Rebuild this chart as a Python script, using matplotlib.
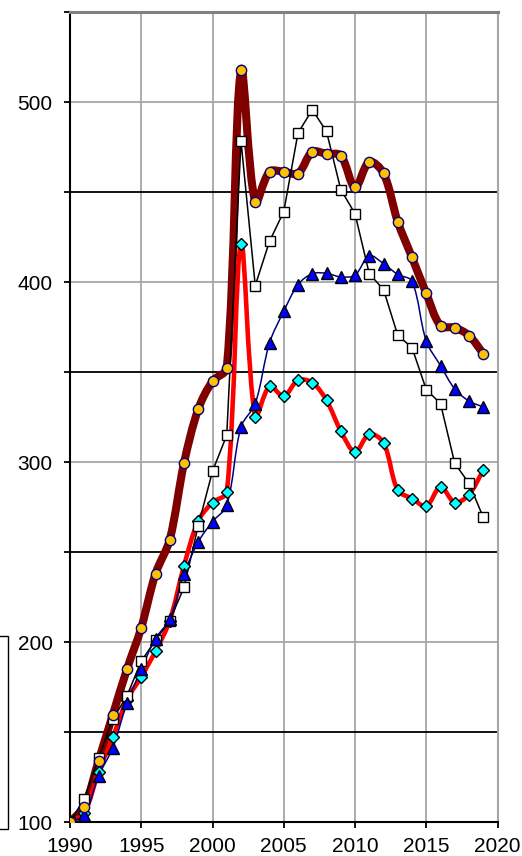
import numpy as np
import matplotlib
matplotlib.use('Agg')
import matplotlib.pyplot as plt
from matplotlib.path import Path
from matplotlib.patches import PathPatch, Rectangle

plt.rcParams['font.family'] = ['Liberation Sans', 'DejaVu Sans']

years = list(range(1990, 2020))

# brown line, gold circles
circles = [100, 108.5, 134, 159.5, 185, 208, 238, 257, 299.5, 329.5,
           345, 352.4, 518, 444.5, 461.5, 461.5, 460.5, 472.5, 471.5, 470.5,
           452.8, 467, 460.6, 433.7, 413.9, 393.9, 375.9, 374.8, 370.4, 360.4]
# black line, white squares
squares = [100, 113, 135.5, 157, 170.2, 189.4, 201, 212, 230.4, 264.8,
           295, 315, 478.5, 398.2, 422.8, 439.3, 483, 495.9, 483.9, 451.6,
           438.2, 404.8, 396, 370.6, 363.7, 340.4, 332.6, 299.4, 288.3, 269.4]
# navy line, blue triangles
triangles = [100, 103.9, 125.5, 141.3, 166, 185, 202, 212.8, 238, 255.7,
             267, 276, 319.6, 332.6, 366.3, 383.9, 398.7, 404.8, 405, 403,
             404, 414.8, 410.4, 404.4, 400.6, 367.4, 353.7, 340.7, 334, 330.7]
# red line, cyan diamonds
diamonds = [100, 105, 128, 147, 168, 180.7, 195, 212, 242.4, 267.4,
            277.6, 283.3, 421.3, 325.3, 342.2, 336.7, 345.6, 344.3, 334.4, 317.4,
            305.7, 315.6, 310.9, 284.4, 279.8, 275.6, 286.3, 277.6, 282, 295.6]

x_ticks = [1990, 1995, 2000, 2005, 2010, 2015, 2020]
y_ticks = list(range(100, 551, 50))
y_labels = ['100', '', '200', '', '300', '', '400', '', '500', '']


def smooth_path(ax, xs, ys):
    # excel-like smoothed line, handles scaled by neighbouring segment lengths (screen space)
    pts = ax.transData.transform(np.column_stack([xs, ys]).astype(float))
    n = len(pts)
    verts = [pts[0]]
    codes = [Path.MOVETO]
    for i in range(n - 1):
        p0 = pts[i - 1] if i > 0 else pts[i]
        p1 = pts[i]
        p2 = pts[i + 1]
        p3 = pts[i + 2] if i + 2 < n else pts[i + 1]
        d01 = np.hypot(*(p1 - p0))
        d12 = np.hypot(*(p2 - p1))
        d23 = np.hypot(*(p3 - p2))
        c1 = p1 + (p2 - p0) * (d12 / (d01 + d12)) / 3.0 if d01 + d12 > 0 else p1
        c2 = p2 - (p3 - p1) * (d12 / (d12 + d23)) / 3.0 if d12 + d23 > 0 else p2
        verts += [c1, c2, p2]
        codes += [Path.CURVE4] * 3
    verts = ax.transData.inverted().transform(np.array(verts))
    return Path(verts, codes)


fig = plt.figure(figsize=(5.22, 8.56), dpi=100)
W, H = 522, 856
ax = fig.add_axes([70 / W, (H - 822) / H, (497.5 - 70) / W, (822 - 12.5) / H])
ax.set_xlim(1990, 2020)
ax.set_ylim(100, 550)

# grid
for gx in x_ticks[1:-1]:
    ax.axvline(gx, color='#a6a6a6', lw=1.3, zorder=0.5)
for gy in y_ticks[1:-1]:
    c = '#a6a6a6' if gy % 100 == 0 else 'black'
    ax.axhline(gy, color=c, lw=1.3, zorder=0.5)

# lines
ax.add_patch(PathPatch(smooth_path(ax, years, circles), fill=False,
                       edgecolor='#800000', lw=5.8, zorder=2, capstyle='round', joinstyle='round'))
ax.add_patch(PathPatch(smooth_path(ax, years, diamonds), fill=False,
                       edgecolor='#ff0000', lw=3.3, zorder=2.1, capstyle='round', joinstyle='round'))
ax.plot(years, squares, color='black', lw=1.1, zorder=2.2)
ax.add_patch(PathPatch(smooth_path(ax, years, triangles), fill=False,
                       edgecolor='#000080', lw=1.1, zorder=2.3))

# markers
ax.plot(years, diamonds, ls='none', marker='D', ms=6.6, mfc='#00ffff', mec='black', mew=1.0, zorder=3)
ax.plot(years, squares, ls='none', marker='s', ms=7.2, mfc='white', mec='black', mew=1.0, zorder=3.1)
ax.plot(years, triangles, ls='none', marker='^', ms=8.4, mfc='#0000ff', mec='black', mew=1.0, zorder=3.2)
ax.plot(years, circles, ls='none', marker='o', ms=7.4, mfc='#ffc000', mec='#000080', mew=1.0, zorder=3.3)

ax.set_xticks(x_ticks)
ax.set_xticklabels([str(t) for t in x_ticks])
ax.set_yticks(y_ticks)
ax.set_yticklabels(y_labels)
ax.tick_params(axis='both', direction='out', length=4.5, width=1.3, labelsize=15, colors='black')
ax.tick_params(axis='y', pad=8)
ax.tick_params(axis='x', pad=6)

for s in ['left', 'bottom']:
    ax.spines[s].set_color('black')
    ax.spines[s].set_linewidth(1.5)
ax.spines['right'].set_color('#a6a6a6')
ax.spines['right'].set_linewidth(1.5)
ax.spines['top'].set_color('#808080')
ax.spines['top'].set_linewidth(2.2)

# cut off box at left edge
fig.patches.append(Rectangle((-10 / W, (H - 828.5) / H), 17.5 / W, 193 / H,
                             transform=fig.transFigure, fill=False, edgecolor='black', lw=1.0))

fig.savefig('out.png', dpi=100)
